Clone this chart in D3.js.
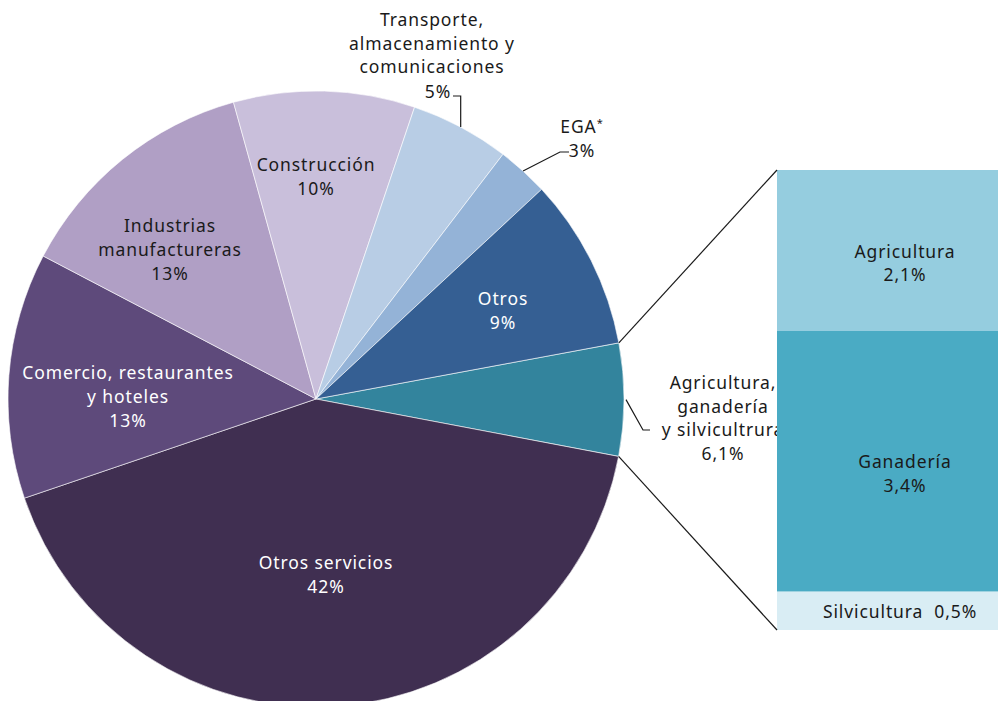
<!DOCTYPE html>
<html>
<head>
<meta charset="utf-8">
<script src="https://cdn.jsdelivr.net/npm/d3@7"></script>
<style>
  body { margin: 0; background: #fff; }
  text { font-family: "Noto Sans", sans-serif; font-size: 17.5px; letter-spacing: 0.9px; }
</style>
</head>
<body>
<svg id="chart" width="998" height="701"></svg>
<script>
// sectors of the pie, clockwise starting from the exploded slice
var sectors = ["Agricultura", "Otros servicios", "Comercio", "Industrias", "Construcción", "Transporte", "EGA", "Otros"];
var shares = [5.9, 41.8, 12.9, 13.0, 9.5, 5.2, 2.7, 9.0];
var sectorLabels = [
  ["Agricultura,", "ganadería", "y silvicultrura", "6,1%"],
  ["Otros servicios", "42%"],
  ["Comercio, restaurantes", "y hoteles", "13%"],
  ["Industrias", "manufactureras", "13%"],
  ["Construcción", "10%"],
  ["Transporte,", "almacenamiento y", "comunicaciones"],
  ["EGA"],
  ["Otros", "9%"]
];
var sectorColors = ["#33849d", "#402f51", "#5e4a7b", "#b09fc5", "#c9bfdb", "#b8cde5", "#94b3d7", "#355f93"];

// breakdown of the agriculture slice
var subSectors = ["Agricultura", "Ganadería", "Silvicultura"];
var subShares = [2.1, 3.4, 0.5];
var subLabels = ["2,1%", "3,4%", "0,5%"];
var subColors = ["#95cddf", "#4aabc4", "#d9edf4"];

var svg = d3.select("#chart");
var cx = 316, cy = 399, r = 308;
var deg = Math.PI / 180;
var start = 79.5 * deg;

var pie = d3.pie().sort(null).startAngle(start).endAngle(start + 2 * Math.PI);
var arcs = pie(shares);
var arc = d3.arc().innerRadius(0).outerRadius(r);

var g = svg.append("g").attr("transform", "translate(" + cx + "," + cy + ")");

g.selectAll("path")
  .data(arcs)
  .enter()
  .append("path")
  .attr("d", arc)
  .style("fill", function(d, i) { return sectorColors[i]; })
  .style("stroke", "#fff")
  .style("stroke-width", 0.6);

function polar(a, rad) {
  return [Math.sin(a) * rad, -Math.cos(a) * rad];
}

// labels inside slices
var inner = {
  1: { pos: [326, 569], fill: "#fff" },
  2: { pos: [128, 379], fill: "#fff" },
  3: { pos: [170, 232], fill: "#1a1a1a" },
  4: { pos: [316, 171], fill: "#1a1a1a" },
  7: { pos: [503, 305], fill: "#fff" }
};
Object.keys(inner).forEach(function(k) {
  var o = inner[k];
  var t = svg.append("text")
    .attr("x", o.pos[0]).attr("y", o.pos[1])
    .attr("text-anchor", "middle")
    .style("fill", o.fill);
  sectorLabels[k].forEach(function(line, j) {
    t.append("tspan").attr("x", o.pos[0]).attr("dy", j == 0 ? 0 : 24).text(line);
  });
});

// outside labels
function block(lines, x, y, anchor) {
  var t = svg.append("text").attr("x", x).attr("y", y)
    .attr("text-anchor", anchor).style("fill", "#1a1a1a");
  lines.forEach(function(line, j) {
    t.append("tspan").attr("x", x).attr("dy", j == 0 ? 0 : 23.5).text(line);
  });
  return t;
}

block(sectorLabels[5], 432, 26, "middle");
block(["5%"], 438, 98, "middle");
var midT = (arcs[5].startAngle + arcs[5].endAngle) / 2;
var pT = polar(midT, r);
svg.append("path")
  .attr("d", "M453,96 H" + (cx + pT[0]) + " V" + (cy + pT[1]))
  .style("fill", "none").style("stroke", "#1a1a1a").style("stroke-width", 1.2);

var ega = svg.append("text").attr("x", 582).attr("y", 133)
  .attr("text-anchor", "middle").style("fill", "#1a1a1a").text(sectorLabels[6][0]);
ega.append("tspan").attr("dy", -6).style("font-size", "11px").text("*");
block(["3%"], 582, 157, "middle");
var midE = (arcs[6].startAngle + arcs[6].endAngle) / 2;
var pE = polar(midE, r);
svg.append("path")
  .attr("d", "M569,152 H560 L" + (cx + pE[0]) + "," + (cy + pE[1]))
  .style("fill", "none").style("stroke", "#1a1a1a").style("stroke-width", 1.2);

block(sectorLabels[0], 723, 389, "middle");
var pA = polar((arcs[0].startAngle + arcs[0].endAngle) / 2, r);
svg.append("path")
  .attr("d", "M" + (cx + pA[0] + 2) + "," + (cy + pA[1]) + " L643,430 H650")
  .style("fill", "none").style("stroke", "#1a1a1a").style("stroke-width", 1.2);

// stacked bar for the agriculture breakdown
var barX = 777, barW = 230;
var y = d3.scaleLinear().domain([0, d3.sum(subShares)]).range([170, 630]);
var cum = 0;
var stack = subShares.map(function(v) { var s = { y0: cum, y1: cum + v }; cum += v; return s; });

svg.selectAll(".bar")
  .data(stack)
  .enter()
  .append("rect")
  .attr("class", "bar")
  .attr("x", barX)
  .attr("width", barW)
  .attr("y", function(d) { return y(d.y0); })
  .attr("height", function(d) { return y(d.y1) - y(d.y0); })
  .style("fill", function(d, i) { return subColors[i]; });

[0, 1].forEach(function(i) {
  var mid = (y(stack[i].y0) + y(stack[i].y1)) / 2;
  block([subSectors[i], subLabels[i]], 905, mid + 7, "middle");
});
block([subSectors[2] + "\u00a0\u00a0" + subLabels[2]], 900, (y(stack[2].y0) + y(stack[2].y1)) / 2 + 7, "middle");

// connector lines from the slice edges to the bar
var pS = polar(arcs[0].startAngle, r);
var pEnd = polar(arcs[0].endAngle, r);
svg.append("line")
  .attr("x1", cx + pS[0]).attr("y1", cy + pS[1])
  .attr("x2", barX).attr("y2", y(0))
  .style("stroke", "#1a1a1a").style("stroke-width", 1.2);
svg.append("line")
  .attr("x1", cx + pEnd[0]).attr("y1", cy + pEnd[1])
  .attr("x2", barX).attr("y2", y(d3.sum(subShares)))
  .style("stroke", "#1a1a1a").style("stroke-width", 1.2);
</script>
</body>
</html>
